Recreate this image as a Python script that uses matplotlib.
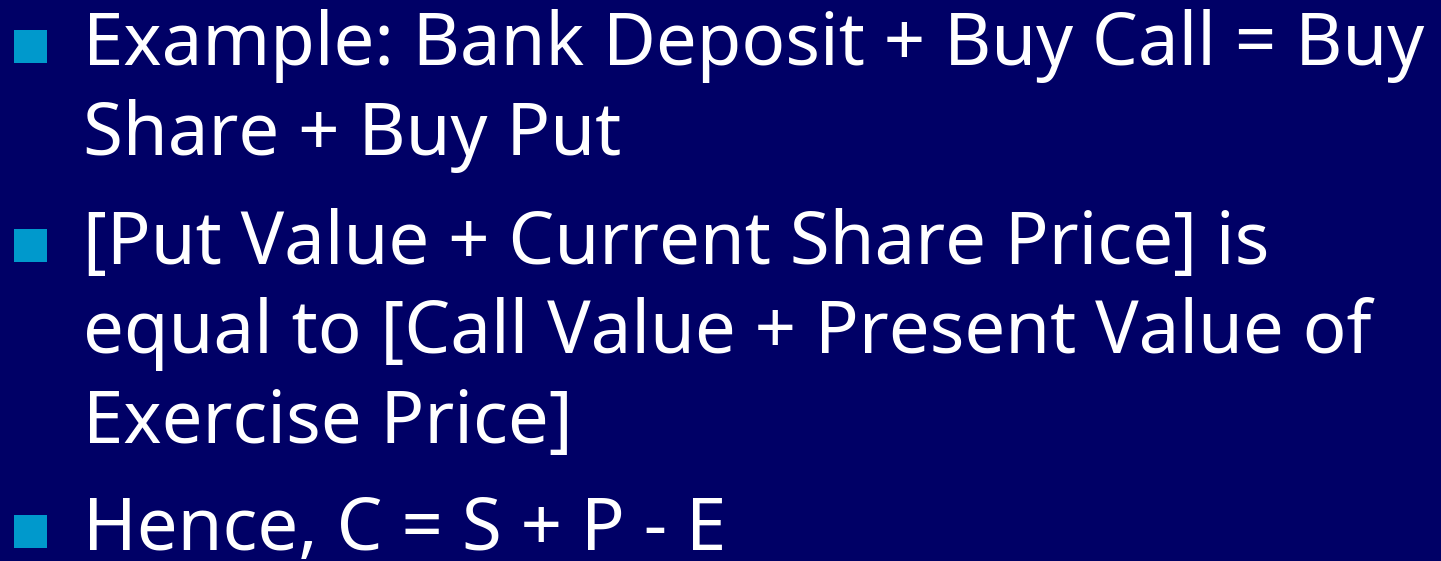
import matplotlib
matplotlib.use("Agg")
import matplotlib.pyplot as plt
from matplotlib.patches import Rectangle

W, H = 1441, 561
BG = "#000066"
BULLET = "#0099CC"
FONT = "Noto Sans"

# Slide text: (line text, has_bullet)
lines = [
    "Example: Bank Deposit + Buy Call = Buy",
    "Share + Buy Put",
    "[Put Value + Current Share Price] is",
    "equal to [Call Value + Present Value of",
    "Exercise Price]",
    "Hence, C = S + P - E",
]
bullets = [True, False, True, False, False, True]
baselines = [65, 155, 264, 353, 443, 550]

fig = plt.figure(figsize=(W / 100, H / 100), dpi=100, facecolor=BG)
ax = fig.add_axes([0, 0, 1, 1])
ax.set_xlim(0, W)
ax.set_ylim(H, 0)
ax.axis("off")
ax.set_facecolor(BG)

# fit font size so the first line spans the same width as on the slide
probe = ax.text(0, 0, lines[0], fontsize=50, family=FONT)
fig.canvas.draw()
wpx = probe.get_window_extent().width
probe.remove()
fs = 50 * 1342 / wpx

for txt, b, y in zip(lines, bullets, baselines):
    ax.text(83, y, txt, color="white", fontsize=fs, family=FONT,
            va="baseline", ha="left")
    if b:
        ax.add_patch(Rectangle((14, y - 35), 33, 33, color=BULLET, lw=0))

fig.savefig("out.png", dpi=100, facecolor=BG)
